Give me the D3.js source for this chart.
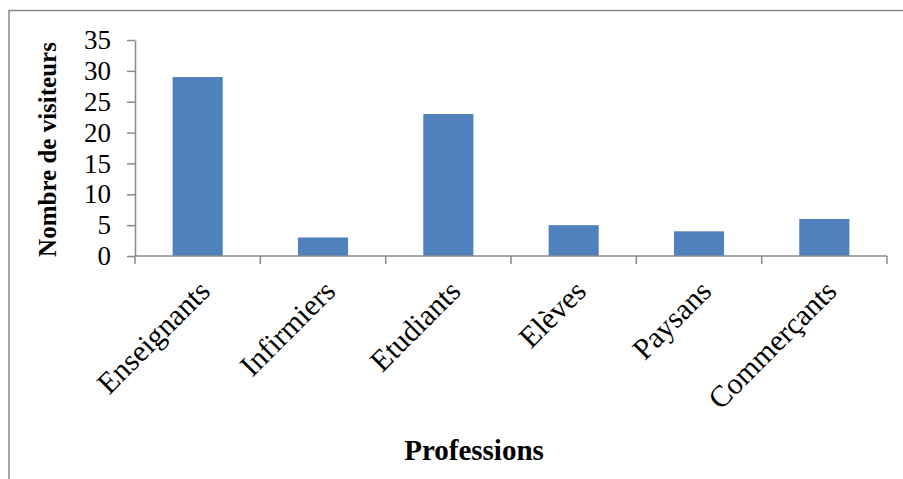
<!DOCTYPE html>
<html>
<head>
<meta charset="utf-8">
<script src="https://cdn.jsdelivr.net/npm/d3@7"></script>
<style>
  html, body { margin: 0; padding: 0; background: #fff; }
  svg { display: block; }
</style>
</head>
<body>
<svg id="chart" width="903" height="479"></svg>
<script>
// Visitors by profession
const categories = ["Enseignants", "Infirmiers", "Etudiants", "Elèves", "Paysans", "Commerçants"];
const visitors = [29, 3, 23, 5, 4, 6];
const yTicks = [0, 5, 10, 15, 20, 25, 30, 35];
const yTitle = "Nombre de visiteurs";
const xTitle = "Professions";

const svg = d3.select("#chart");
const W = 903, H = 479;
const axisColor = "#8a8a8a";
const serif = "'Liberation Serif', 'Times New Roman', serif";

// Chart frame (top and left edges visible in the window)
svg.append("path")
  .attr("d", `M9,${H + 2}V10.5H${W + 2}`)
  .attr("fill", "none")
  .attr("stroke", axisColor)
  .attr("stroke-width", 1.5);

const plot = { left: 135, right: 887, top: 40, bottom: 256 };

const x = d3.scaleBand()
  .domain(categories)
  .range([plot.left, plot.right])
  .paddingInner(0.6)
  .paddingOuter(0.3);

const y = d3.scaleLinear()
  .domain([0, 35])
  .range([plot.bottom, plot.top]);

// Bars
svg.append("g")
  .selectAll("rect")
  .data(categories)
  .join("rect")
  .attr("x", d => x(d))
  .attr("y", (d, i) => y(visitors[i]))
  .attr("width", x.bandwidth())
  .attr("height", (d, i) => y(0) - y(visitors[i]))
  .attr("fill", "#4f81bd");

// Y axis
const yAxis = svg.append("g")
  .attr("transform", `translate(${plot.left},0)`)
  .call(d3.axisLeft(y).tickValues(yTicks).tickSize(8).tickSizeOuter(0).tickPadding(16));
yAxis.select(".domain").attr("stroke", axisColor).attr("stroke-width", 1.5);
yAxis.selectAll(".tick line").attr("stroke", axisColor).attr("stroke-width", 1.5);
yAxis.selectAll(".tick text")
  .attr("font-family", serif)
  .attr("font-size", 27)
  .attr("fill", "#000");

// X axis: ticks sit on the band boundaries
const step = x.step();
const boundaries = d3.range(categories.length + 1).map(i => plot.left + i * step);
const xAxis = svg.append("g");
xAxis.append("line")
  .attr("x1", plot.left).attr("x2", plot.right)
  .attr("y1", y(0)).attr("y2", y(0))
  .attr("stroke", axisColor).attr("stroke-width", 1.5);
xAxis.selectAll("line.tick")
  .data(boundaries)
  .join("line")
  .attr("class", "tick")
  .attr("x1", d => d).attr("x2", d => d)
  .attr("y1", y(0)).attr("y2", y(0) + 8)
  .attr("stroke", axisColor).attr("stroke-width", 1.5);

// Rotated category labels
xAxis.selectAll("text")
  .data(categories)
  .join("text")
  .attr("transform", d => `translate(${x(d) + x.bandwidth() / 2 + 14},${y(0) + 37}) rotate(-45)`)
  .attr("text-anchor", "end")
  .attr("font-family", serif)
  .attr("font-size", 30)
  .attr("fill", "#000")
  .text(d => d);

// Axis titles
svg.append("text")
  .attr("transform", `translate(56,149.5) rotate(-90)`)
  .attr("text-anchor", "middle")
  .attr("font-family", serif)
  .attr("font-weight", "bold")
  .attr("font-size", 25)
  .attr("fill", "#000")
  .text(yTitle);

svg.append("text")
  .attr("x", 474)
  .attr("y", 460)
  .attr("text-anchor", "middle")
  .attr("font-family", serif)
  .attr("font-weight", "bold")
  .attr("font-size", 29)
  .attr("fill", "#000")
  .text(xTitle);
</script>
</body>
</html>
